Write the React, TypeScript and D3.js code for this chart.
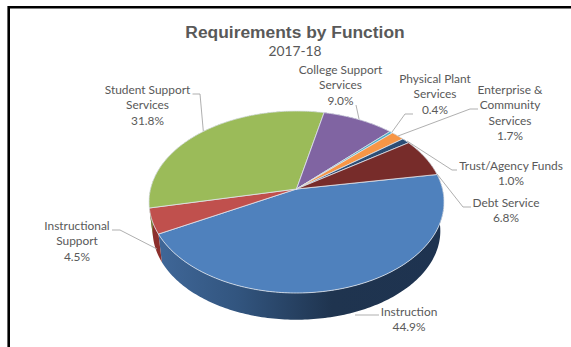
import React from "react";
import * as d3 from "d3";

const categories = [
  "Instruction",
  "Instructional Support",
  "Student Support Services",
  "College Support Services",
  "Physical Plant Services",
  "Enterprise & Community Services",
  "Trust/Agency Funds",
  "Debt Service",
];
const shares = [44.9, 4.5, 31.8, 9.0, 0.4, 1.7, 1.0, 6.8];
const topColors = ["#4f81bd", "#c0504d", "#9bbb59", "#8064a2", "#4bacc6", "#f79646", "#2c4d75", "#772c2a"];
const sideColors = ["url(#instructionSide)", "#8c2f2c", "#6f8a3d", "#5c4776", "#357f93", "#b86d2f", "#1f3550", "#561f1e"];

// Label placement: wrapped lines, centre x, first line centre y, and the leader polyline.
type Callout = { lines: string[]; x: number; y: number; leader: [number, number][] };
const callouts: Callout[] = [
  { lines: ["Instruction"], x: 409, y: 312, leader: [[379, 315], [355, 315]] },
  { lines: ["Instructional", "Support"], x: 77, y: 226, leader: [[112, 230], [120, 230], [157, 249]] },
  { lines: ["Student Support", "Services"], x: 147.5, y: 90, leader: [[192.5, 94], [200, 94], [203.3, 131]] },
  { lines: ["College Support", "Services"], x: 340.5, y: 70, leader: [[356, 105], [359, 119]] },
  { lines: ["Physical Plant", "Services"], x: 435, y: 79, leader: [[413, 114], [405, 114], [392, 132]] },
  { lines: ["Enterprise &", "Community", "Services"], x: 510, y: 90, leader: [[478, 109], [470, 109], [398, 136]] },
  { lines: ["Trust/Agency Funds"], x: 511, y: 166, leader: [[457, 170], [452, 170], [407, 141]] },
  { lines: ["Debt Service"], x: 506, y: 203, leader: [[471, 207], [463, 207], [437, 174]] },
];

const WIDTH = 571;
const HEIGHT = 347;
const CX = 296.5;
const CY = 189;
const A = 146;
const B = 89.14;
const TILT = 1 / 7;
const LOWER_SCALE = 0.975;
const LOWER_CY = 231;
const UPPER_CY = 202;
const RX = 147.5;
const LABEL_FONT = "Lato, 'Open Sans', sans-serif";
const TEXT = "#595959";

// Perspective view of the unit disc: angle is clockwise from twelve o'clock.
function rim(theta: number): [number, number] {
  const u = Math.sin(theta);
  const v = -Math.cos(theta);
  const w = 1 - TILT * v;
  return [CX + (A * u) / w, CY + (B * v) / w];
}

// Same rim on the base of the disc, slightly smaller and further down.
function lowerRim(theta: number): [number, number] {
  const [x, y] = rim(theta);
  return [CX + (x - CX) * LOWER_SCALE, LOWER_CY + (y - UPPER_CY) * LOWER_SCALE];
}

function sampleAngles(a0: number, a1: number): number[] {
  const n = Math.max(2, Math.ceil((a1 - a0) / (Math.PI / 180)));
  return d3.range(n + 1).map((i) => a0 + ((a1 - a0) * i) / n);
}

const pieLayout = d3
  .pie<number>()
  .sort(null)
  .startAngle((80.4 * Math.PI) / 180)
  .endAngle((80.4 * Math.PI) / 180 + 2 * Math.PI);

const outline = d3.line<[number, number]>().curve(d3.curveLinear);

export default function App() {
  const arcs = pieLayout(shares);
  return (
    <svg
      width={WIDTH}
      height={HEIGHT}
      viewBox={`0 0 ${WIDTH} ${HEIGHT}`}
      style={{ position: "absolute", left: 0, top: 0, background: "#fff" }}
    >
      <defs>
        <linearGradient id="instructionSide" gradientUnits="userSpaceOnUse" x1={CX - RX} x2={CX + RX} y1={0} y2={0}>
          <stop offset="0" stopColor="#41699b" />
          <stop offset="0.3" stopColor="#32557f" />
          <stop offset="0.62" stopColor="#1f344f" />
          <stop offset="1" stopColor="#1e3350" />
        </linearGradient>
      </defs>

      <path d="M571 7.2 H8.7 V347" fill="none" stroke="#000" strokeWidth={2.6} />

      {arcs.map((a, i) => {
        const angles = sampleAngles(a.startAngle, a.endAngle);
        const pts = [...angles.map(rim), ...angles.slice().reverse().map(lowerRim)];
        return <path key={`side-${categories[i]}`} d={outline(pts) + "Z"} fill={sideColors[i]} />;
      })}

      {arcs.map((a, i) => {
        const pts: [number, number][] = [[CX, CY], ...sampleAngles(a.startAngle, a.endAngle).map(rim)];
        return (
          <path
            key={`top-${categories[i]}`}
            d={outline(pts) + "Z"}
            fill={topColors[i]}
            stroke="#dfe5ec"
            strokeWidth={0.8}
            strokeLinejoin="round"
          />
        );
      })}

      {callouts.map((c) => (
        <polyline
          key={`leader-${c.lines[0]}`}
          points={c.leader.map((p) => p.join(",")).join(" ")}
          fill="none"
          stroke="#a6a6a6"
          strokeWidth={0.9}
        />
      ))}

      <text
        x={295}
        y={37.5}
        textAnchor="middle"
        fontFamily="'Liberation Sans', Arial, sans-serif"
        fontWeight="bold"
        fontSize={17.4}
        fill={TEXT}
      >
        Requirements by Function
      </text>
      <text x={295} y={55.5} textAnchor="middle" fontFamily={LABEL_FONT} fontSize={13.8} fill={TEXT}>
        2017-18
      </text>

      {callouts.map((c, i) => (
        <text key={`label-${c.lines[0]}`} textAnchor="middle" fontFamily={LABEL_FONT} fontSize={11.9} fill={TEXT}>
          {[...c.lines, `${shares[i].toFixed(1)}%`].map((line, j) => (
            <tspan key={j} x={c.x} y={c.y + 4 + j * 15.4}>
              {line}
            </tspan>
          ))}
        </text>
      ))}
    </svg>
  );
}
